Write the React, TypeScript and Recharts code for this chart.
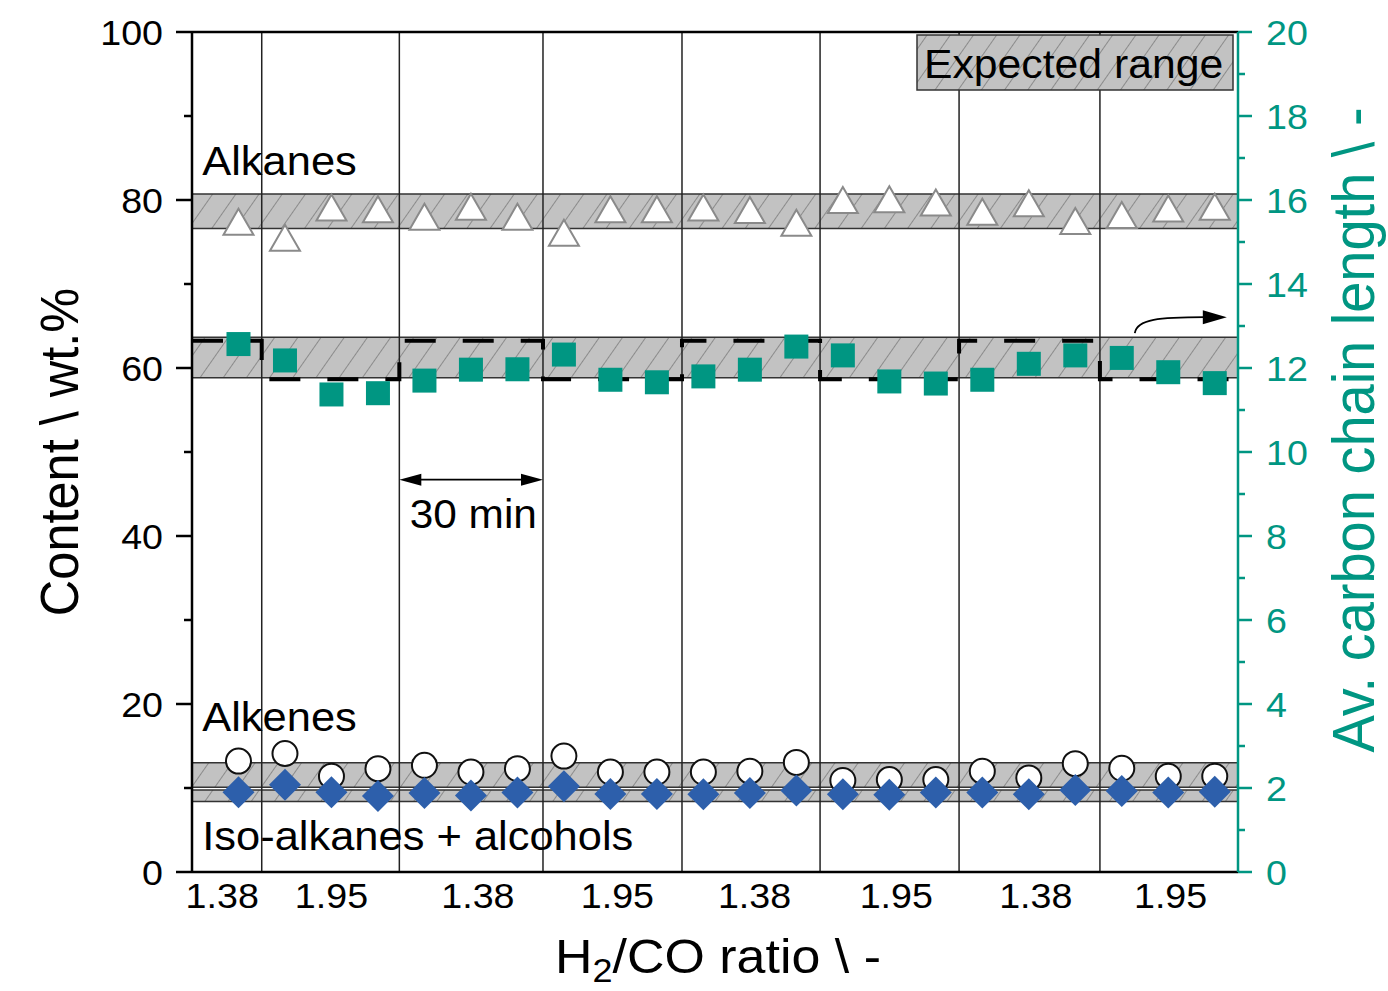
import React from 'react';
import {
  ComposedChart,
  XAxis,
  YAxis,
  Scatter,
  Line,
  ReferenceArea,
  ReferenceLine,
  ReferenceDot,
} from 'recharts';

const FONT = '"Liberation Sans", Arial, sans-serif';
const SX = 1.06; // the source figure is a little stretched horizontally
const TEAL = '#009682';
const BLUE = '#2d5fab';

// sample number (3 samples per 30 min period)
const sampleNo = [1, 2, 3, 4, 5, 6, 7, 8, 9, 10, 11, 12, 13, 14, 15, 16, 17, 18, 19, 20, 21, 22];

// content, wt.% (left axis)
const alkanes = [77.4, 75.5, 79.1, 78.9, 78.0, 79.2, 78.0, 76.1, 78.9, 78.9, 79.1, 78.8, 77.3, 80.0, 80.1, 79.7, 78.6, 79.6, 77.5, 78.2, 79.0, 79.2];
const alkenes = [13.2, 14.1, 11.4, 12.3, 12.7, 11.9, 12.3, 13.8, 11.9, 11.9, 11.9, 12.0, 13.05, 10.9, 11.0, 11.0, 12.0, 11.2, 12.9, 12.35, 11.4, 11.4];
const isoAlcohols = [9.5, 10.4, 9.5, 9.06, 9.4, 9.1, 9.46, 10.2, 9.3, 9.3, 9.26, 9.4, 9.7, 9.26, 9.2, 9.46, 9.46, 9.26, 9.76, 9.63, 9.46, 9.55];

// av. carbon chain length (right axis)
const chainLength = [12.57, 12.18, 11.37, 11.4, 11.7, 11.96, 11.97, 12.32, 11.72, 11.66, 11.8, 11.96, 12.51, 12.3, 11.68, 11.63, 11.72, 12.1, 12.3, 12.24, 11.9, 11.64];

// H2/CO switching
const switchAt = [1.5, 4.46, 7.55, 10.54, 13.51, 16.5, 19.53];
const ratioLabels = ['1.38', '1.95', '1.38', '1.95', '1.38', '1.95', '1.38', '1.95'];
const ratioLabelAt = [0.65, 3.0, 6.15, 9.15, 12.1, 15.15, 18.15, 21.05];

// dashed step (right axis)
const stepX = [0, 1.5, 4.46, 7.55, 10.54, 13.51, 16.5, 19.53, 22.5];
const stepY = [12.65, 11.73, 12.65, 11.73, 12.65, 11.73, 12.65, 11.73, 11.73];

// expected ranges
const alkaneRange = [76.6, 80.7];
const chainRange = [11.77, 12.73];
const alkeneRange = [10.1, 13.0];
const isoRange = [8.4, 9.75];

const leftTicks = [0, 10, 20, 30, 40, 50, 60, 70, 80, 90, 100];
const rightTicks = [0, 1, 2, 3, 4, 5, 6, 7, 8, 9, 10, 11, 12, 13, 14, 15, 16, 17, 18, 19, 20];

const toPts = (ys: number[]) => ys.map((y, i) => ({ x: sampleNo[i], y }));
const stepData = stepX.map((x, i) => ({ x, y: stepY[i] }));

const sText = (x: number, y: number) => `translate(${x} ${y}) scale(${SX} 1)`;

const TICK_FS = 35.5;
const NOTE_FS = 41;

const LeftTick = (props: any) => {
  const { x, y, payload } = props;
  const v = payload.value;
  const major = v % 20 === 0;
  const ax = x + 13 + 16;
  return (
    <g>
      <line x1={ax - (major ? 16 : 8)} x2={ax} y1={y} y2={y} stroke="#000" strokeWidth={2.5} />
      {major && (
        <text transform={sText(x, y)} dy="0.358em" textAnchor="end" fontSize={TICK_FS} fontFamily={FONT} fill="#000">
          {v}
        </text>
      )}
    </g>
  );
};

const RightTick = (props: any) => {
  const { x, y, payload } = props;
  const v = payload.value;
  const major = v % 2 === 0;
  const ax = x - 14 - 14;
  return (
    <g>
      <line x1={ax} x2={ax + (major ? 14 : 7)} y1={y} y2={y} stroke={TEAL} strokeWidth={2.5} />
      {major && (
        <text transform={sText(x, y)} dy="0.358em" textAnchor="start" fontSize={TICK_FS} fontFamily={FONT} fill={TEAL}>
          {v}
        </text>
      )}
    </g>
  );
};

const BottomTick = (props: any) => {
  const { x, y, index } = props;
  return (
    <text transform={sText(x, y)} dy="0.716em" textAnchor="middle" fontSize={TICK_FS} fontFamily={FONT} fill="#000">
      {ratioLabels[index]}
    </text>
  );
};

const Triangle = (p: any) => (
  <polygon
    points={`${p.cx},${p.cy - 13} ${p.cx + 15},${p.cy + 13} ${p.cx - 15},${p.cy + 13}`}
    fill="#fff"
    stroke="#8a8a8a"
    strokeWidth={2}
  />
);
const Square = (p: any) => <rect x={p.cx - 12} y={p.cy - 12} width={24} height={24} fill={TEAL} />;
const Circle = (p: any) => <circle cx={p.cx} cy={p.cy} r={12.5} fill="#fff" stroke="#111" strokeWidth={2} />;
const Diamond = (p: any) => (
  <polygon points={`${p.cx},${p.cy - 16} ${p.cx + 16},${p.cy} ${p.cx},${p.cy + 16} ${p.cx - 16},${p.cy}`} fill={BLUE} />
);

const note = (txt: string, size: number, anchor: 'start' | 'middle' = 'start') => (p: any) => (
  <text transform={sText(p.cx, p.cy)} textAnchor={anchor} fontSize={size} fontFamily={FONT} fill="#000">
    {txt}
  </text>
);

const DoubleArrow = (p: any) => {
  const { x1, y1, x2, y2 } = p;
  return (
    <g>
      <line x1={x1 + 18} y1={y1} x2={x2 - 18} y2={y2} stroke="#000" strokeWidth={1.8} />
      <polygon points={`${x1},${y1} ${x1 + 22},${y1 - 6} ${x1 + 22},${y1 + 6}`} fill="#000" />
      <polygon points={`${x2},${y2} ${x2 - 22},${y2 - 6} ${x2 - 22},${y2 + 6}`} fill="#000" />
    </g>
  );
};

const CurvedArrow = (p: any) => (
  <g>
    <path d={`M ${p.cx} ${p.cy} C ${p.cx + 2} ${p.cy - 14}, ${p.cx + 25} ${p.cy - 16}, ${p.cx + 70} ${p.cy - 16}`} fill="none" stroke="#000" strokeWidth={1.8} />
    <polygon points={`${p.cx + 92},${p.cy - 16} ${p.cx + 68},${p.cy - 23} ${p.cx + 68},${p.cy - 9}`} fill="#000" />
  </g>
);

const bandStyle = { fill: 'url(#hatch)', fillOpacity: 1, stroke: '#333', strokeWidth: 1.5 };

export default function App() {
  return (
    <div style={{ position: 'absolute', left: 0, top: 0, width: 1388, height: 991, background: '#fff' }}>
      <ComposedChart width={1388} height={991} margin={{ top: 32, right: 50, left: 92, bottom: 59 }}>
        <defs>
          <pattern id="hatch" patternUnits="userSpaceOnUse" width={19} height={19} patternTransform="rotate(35)">
            <rect width={19} height={19} fill="#c2c2c2" />
            <line x1={0} y1={0} x2={0} y2={19} stroke="#666" strokeWidth={1.2} />
          </pattern>
        </defs>
        <XAxis
          type="number"
          dataKey="x"
          domain={[0, 22.5]}
          ticks={ratioLabelAt}
          interval={0}
          height={60}
          tickSize={0}
          tickMargin={11}
          tickLine={false}
          tick={<BottomTick />}
          axisLine={{ stroke: '#000', strokeWidth: 2.5 }}
        />
        <YAxis
          yAxisId="left"
          type="number"
          dataKey="y"
          domain={[0, 100]}
          ticks={leftTicks}
          interval={0}
          width={100}
          tickSize={16}
          tickMargin={13}
          tickLine={false}
          tick={<LeftTick />}
          axisLine={{ stroke: '#000', strokeWidth: 2.5 }}
        />
        <YAxis
          yAxisId="right"
          orientation="right"
          type="number"
          dataKey="y"
          domain={[0, 20]}
          ticks={rightTicks}
          interval={0}
          width={100}
          tickSize={14}
          tickMargin={14}
          tickLine={false}
          tick={<RightTick />}
          axisLine={{ stroke: TEAL, strokeWidth: 2.5 }}
        />

        <ReferenceArea yAxisId="left" y1={alkaneRange[0]} y2={alkaneRange[1]} {...bandStyle} />
        <ReferenceArea yAxisId="right" y1={chainRange[0]} y2={chainRange[1]} {...bandStyle} />
        <ReferenceArea yAxisId="left" y1={alkeneRange[0]} y2={alkeneRange[1]} {...bandStyle} />
        <ReferenceArea yAxisId="left" y1={isoRange[0]} y2={isoRange[1]} {...bandStyle} />

        {switchAt.map((x) => (
          <ReferenceLine key={x} yAxisId="left" x={x} stroke="#222" strokeWidth={1.5} />
        ))}
        <ReferenceLine yAxisId="left" y={100} stroke="#000" strokeWidth={2.5} />

        <Line
          yAxisId="right"
          data={stepData}
          dataKey="y"
          type="stepAfter"
          stroke="#000"
          strokeWidth={4}
          strokeDasharray="31 27"
          dot={false}
          activeDot={false}
          isAnimationActive={false}
        />

        <Scatter yAxisId="left" data={toPts(alkanes)} shape={Triangle} isAnimationActive={false} />
        <Scatter yAxisId="right" data={toPts(chainLength)} shape={Square} isAnimationActive={false} />
        <Scatter yAxisId="left" data={toPts(alkenes)} shape={Circle} isAnimationActive={false} />
        <Scatter yAxisId="left" data={toPts(isoAlcohols)} shape={Diamond} isAnimationActive={false} />

        <ReferenceLine yAxisId="left" segment={[{ x: 4.46, y: 46.7 }, { x: 7.55, y: 46.7 }]} shape={DoubleArrow} />
        <ReferenceDot yAxisId="left" x={6.05} y={40.95} r={0} shape={note('30 min', 40, 'middle')} />
        <ReferenceDot yAxisId="left" x={0.22} y={83.0} r={0} shape={note('Alkanes', NOTE_FS)} />
        <ReferenceDot yAxisId="left" x={0.22} y={16.8} r={0} shape={note('Alkenes', NOTE_FS)} />
        <ReferenceDot yAxisId="left" x={0.22} y={2.6} r={0} shape={note('Iso-alkanes + alcohols', NOTE_FS)} />
        <ReferenceDot yAxisId="right" x={20.28} y={12.83} r={0} shape={CurvedArrow} />
      </ComposedChart>

      <svg width={1388} height={991} style={{ position: 'absolute', left: 0, top: 0, pointerEvents: 'none' }}>
        <defs>
          <pattern id="hatchLegend" patternUnits="userSpaceOnUse" width={19} height={19} patternTransform="rotate(35)">
            <rect width={19} height={19} fill="#c2c2c2" />
            <line x1={0} y1={0} x2={0} y2={19} stroke="#666" strokeWidth={1.2} />
          </pattern>
        </defs>
        <rect x={917} y={35} width={316} height={55} fill="url(#hatchLegend)" stroke="#333" strokeWidth={1.5} />
        <text transform={sText(924, 78)} fontSize={40.3} fontFamily={FONT} fill="#000">
          Expected range
        </text>
        <text transform={`translate(78 452) scale(${SX} 1) rotate(-90)`} textAnchor="middle" fontSize={50.5} fontFamily={FONT} fill="#000">
          Content \ wt.%
        </text>
        <text transform={`translate(1374 430) scale(${SX} 1) rotate(-90)`} textAnchor="middle" fontSize={56} fontFamily={FONT} fill={TEAL}>
          Av. carbon chain length \ -
        </text>
        <text transform={sText(555, 973)} fontSize={49} fontFamily={FONT} fill="#000">
          <tspan>H</tspan>
          <tspan fontSize={34} dy={9}>2</tspan>
          <tspan dy={-9}>/CO ratio \ -</tspan>
        </text>
      </svg>
    </div>
  );
}
